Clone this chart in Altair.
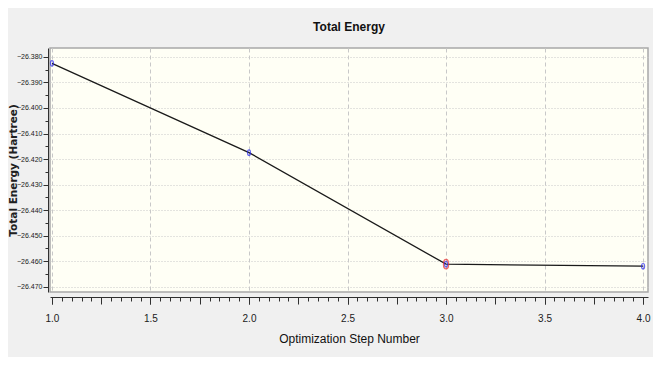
import altair as alt
import pandas as pd
import numpy as np

# Data
steps = [1, 2, 3, 4]
energies = [-26.3825, -26.4175, -26.4612, -26.4620]
selected_step = [3]
selected_energy = [-26.4612]

# Axis tick values / labels
x_label_values = [1.0, 1.5, 2.0, 2.5, 3.0, 3.5, 4.0]
x_major_values = [1.0, 1.25, 1.5, 1.75, 2.0, 2.25, 2.5, 2.75, 3.0, 3.25, 3.5, 3.75, 4.0]
x_minor_values = [round(v, 2) for v in np.arange(1.0, 4.0001, 0.05)]
y_label_values = [-26.470, -26.460, -26.450, -26.440, -26.430, -26.420, -26.410, -26.400, -26.390, -26.380]
y_minor_values = [round(v, 3) for v in np.arange(-26.470, -26.3799, 0.005)]

df = pd.DataFrame({"step": steps, "energy": energies})
sel = pd.DataFrame({"step": selected_step, "energy": selected_energy})

xscale = alt.Scale(domain=[0.99, 4.025], nice=False, zero=False)
yscale = alt.Scale(domain=[-26.4721, -26.3765], nice=False, zero=False)

SANS = "Liberation Sans, Arial, sans-serif"
AX = "#303030"

x_main = alt.Axis(
    values=x_label_values, format=".1f", title="Optimization Step Number",
    orient="bottom", offset=5, tickSize=7, tickColor=AX, domainColor=AX,
    labelFont=SANS, labelFontSize=10, labelColor="#202020", labelPadding=9,
    titleFont=SANS, titleFontSize=12, titleFontWeight="normal", titleColor="#111111",
    titlePadding=10, grid=True, gridColor="#c8c8c8", gridDash=[4, 3], gridWidth=1,
)
x_mid = alt.Axis(
    values=x_major_values, orient="bottom", offset=5, tickSize=7, tickColor=AX,
    labels=False, domain=False, grid=False, title=None,
)
x_minor = alt.Axis(
    values=x_minor_values, orient="bottom", offset=5, tickSize=4, tickColor=AX,
    labels=False, domain=False, grid=False, title=None,
)
y_main = alt.Axis(
    values=y_label_values, format=".3f", title="Total Energy (Hartree)",
    orient="left", offset=2, tickSize=5, tickColor=AX, domainColor=AX,
    labelFont=SANS, labelFontSize=7, labelColor="#202020", labelPadding=1,
    titleFont="DejaVu Sans", titleFontSize=10.5, titleFontWeight="bold", titleColor="#202020",
    titleX=-32, titleBaseline="alphabetic",
    grid=True, gridColor="#c8c8c8", gridDash=[1, 2], gridWidth=1,
)
y_minor = alt.Axis(
    values=y_minor_values, orient="left", offset=2, tickSize=3, tickColor=AX,
    labels=False, domain=False, grid=False, title=None,
)

line = alt.Chart(df).mark_line(color="#1a1a1a", strokeWidth=1.3).encode(
    x=alt.X("step:Q", scale=xscale, axis=x_main),
    y=alt.Y("energy:Q", scale=yscale, axis=y_main),
)

ellipse = "M0,-1 A0.55,1 0 1,1 0,1 A0.55,1 0 1,1 0,-1 Z"

points = alt.Chart(df).mark_point(
    shape=ellipse, size=30, color="#2a2af0", strokeWidth=1.2, filled=False
).encode(
    x=alt.X("step:Q", scale=xscale, axis=x_mid),
    y=alt.Y("energy:Q", scale=yscale, axis=y_minor),
)

selected = alt.Chart(sel).mark_point(
    shape=ellipse, size=90, color="#e83030", strokeWidth=1.2, filled=False
).encode(
    x=alt.X("step:Q", scale=xscale, axis=x_minor),
    y=alt.Y("energy:Q", scale=yscale, axis=None),
)

chart = (
    alt.layer(line, points, selected)
    .resolve_axis(x="independent", y="independent")
    .properties(
        width=598,
        height=244,
        autosize=alt.AutoSizeParams(type="none"),
        padding={"left": 42, "top": 40, "right": 5, "bottom": 65},
        background="#f0f0f0",
        title=alt.TitleParams(
            "Total Energy", font=SANS, fontSize=12, fontWeight="bold",
            color="#111111", anchor="middle", offset=14,
        ),
    )
    .configure_view(fill="#fffff5", stroke="#a8a8a8", strokeWidth=1.5)
)

chart.save("out.html", embed_options={"renderer": "svg", "actions": False})
